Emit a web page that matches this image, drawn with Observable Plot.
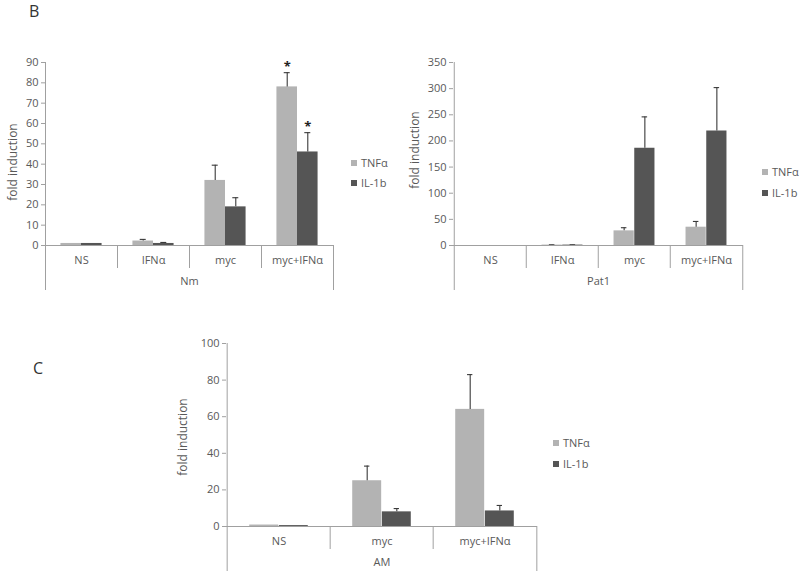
<!DOCTYPE html>
<html><head><meta charset="utf-8">
<script src="https://cdn.jsdelivr.net/npm/d3@7"></script>
<script src="https://cdn.jsdelivr.net/npm/@observablehq/plot@0.6"></script>
<style>
body{margin:0;background:#fff;font-family:'Open Sans',sans-serif;color:#595959}
#root{position:relative;width:800px;height:578px;overflow:hidden;background:#fff}
.abs{position:absolute}
.leg{position:absolute;font-size:11px;line-height:12px;white-space:nowrap}
.sw{width:6px;height:6px;display:inline-block;margin-right:4px;vertical-align:1px}
.letter{position:absolute;font-size:16px;color:#333;line-height:16px}
</style></head><body><div id="root"></div>
<script>
const series = ["TNFα", "IL-1b"];
const seriesColors = ["#b3b3b3", "#555555"];

// Panel B, left (Nm)
const nmCats = ["NS", "IFNα", "myc", "myc+IFNα"];
const nmTNF = [1, 2.2, 32, 78];
const nmTNFErr = [null, 3, 39.5, 85];
const nmIL = [1, 1, 19, 46];
const nmILErr = [null, 1.5, 23.5, 55.5];
const nmTNFStar = ["", "", "", "*"];
const nmILStar = ["", "", "", "*"];
const nmTicks = [0, 10, 20, 30, 40, 50, 60, 70, 80, 90];

// Panel B, right (Pat1)
const patCats = ["NS", "IFNα", "myc", "myc+IFNα"];
const patTNF = [0, 0.8, 28, 35];
const patTNFErr = [null, 1.3, 34, 46];
const patIL = [0, 0.8, 186, 219];
const patILErr = [null, 1.3, 246, 302];
const patTicks = [0, 50, 100, 150, 200, 250, 300, 350];

// Panel C (AM)
const amCats = ["NS", "myc", "myc+IFNα"];
const amTNF = [0.8, 25, 64];
const amTNFErr = [null, 33, 83];
const amIL = [0.5, 8, 8.5];
const amILErr = [null, 9.8, 11.5];
const amTicks = [0, 20, 40, 60, 80, 100];

const axisColor = "#a0a0a0";
const textColor = "#595959";
const root = document.getElementById("root");

function panel(o) {
  const pw = o.width - o.ml - o.mr;
  const bw = pw / o.cats.length;
  const ph = o.height - o.mt - o.mb;
  const yMax = o.ticks[o.ticks.length - 1];
  const ppu = ph / yMax;
  const rows = [];
  o.cats.forEach((c, i) => {
    rows.push({cat: c, s: series[0], v: o.tnf[i], e: o.tnfErr[i], star: o.tnfStar ? o.tnfStar[i] : ""});
    rows.push({cat: c, s: series[1], v: o.il[i], e: o.ilErr[i], star: o.ilStar ? o.ilStar[i] : ""});
  });
  const inner = 23 / ppu, outer = 45 / ppu;
  const marks = [];
  series.forEach((s, k) => {
    const data = rows.filter(r => r.s === s);
    const withErr = data.filter(r => r.e != null);
    const left = k === 0 ? bw * 0.75 / 3.5 : bw * 1.75 / 3.5;
    const right = bw - left - bw / 3.5;
    const center = left + bw / 7;
    marks.push(Plot.barY(data, {x: "cat", y: "v", fill: seriesColors[k], insetLeft: left, insetRight: right}));
    marks.push(Plot.ruleX(withErr, {x: "cat", y1: "v", y2: "e", dx: k === 0 ? -bw / 7 : bw / 7, stroke: "#3a3a3a", strokeWidth: 1.1}));
    marks.push(Plot.tickY(withErr, {x: "cat", y: "e", insetLeft: center - 3, insetRight: bw - center - 3, stroke: "#3a3a3a", strokeWidth: 1.1}));
    marks.push(Plot.text(data.filter(r => r.star), {x: "cat", y: "e", text: "star", dx: k === 0 ? -bw / 7 : bw / 7, dy: -6, fontSize: 13, fill: "#222", fontWeight: "bold"}));
  });
  // x axis baseline
  marks.push(Plot.ruleY([0], {stroke: axisColor}));
  // category dividers
  marks.push(Plot.ruleX(o.cats.slice(1), {x: d => d, dx: -bw / 2, y1: 0, y2: -inner, stroke: axisColor}));
  marks.push(Plot.ruleX(o.cats.slice(0, 1), {x: d => d, dx: -bw / 2, y1: -outer, y2: yMax, stroke: axisColor}));
  marks.push(Plot.ruleX(o.cats.slice(-1), {x: d => d, dx: bw / 2, y1: -outer, y2: 0, stroke: axisColor}));
  marks.push(Plot.axisY({ticks: o.ticks, tickSize: 4, tickPadding: 3, stroke: axisColor, fill: textColor, label: null, tickFormat: d => String(d), fontSize: 11}));
  marks.push(Plot.axisX({tickSize: 0, tickPadding: 11, fill: textColor, label: null, fontSize: 11}));
  marks.push(Plot.text([o.group], {frameAnchor: "bottom", dy: 39, fill: textColor, fontSize: 11}));
  marks.push(Plot.text(["fold induction"], {frameAnchor: "left", textAnchor: "middle", dx: o.ylabDx, dy: o.ylabDy, rotate: -90, fill: textColor, fontSize: 12}));
  const svg = Plot.plot({
    width: o.width, height: o.height,
    marginLeft: o.ml, marginRight: o.mr, marginTop: o.mt, marginBottom: o.mb,
    x: {domain: o.cats, padding: 0, axis: null},
    y: {domain: [0, yMax], axis: null},
    style: {fontFamily: "'Open Sans', sans-serif", fontSize: "11px", color: textColor, background: "transparent", overflow: "visible"},
    marks
  });
  svg.classList.add("abs");
  svg.style.left = o.left + "px";
  svg.style.top = o.top + "px";
  root.appendChild(svg);
  // legend
  series.forEach((s, k) => {
    const d = document.createElement("div");
    d.className = "leg";
    d.style.left = o.legX + "px";
    d.style.top = (o.legY + k * o.legGap - 6) + "px";
    d.innerHTML = `<span class="sw" style="background:${seriesColors[k]}"></span>${s}`;
    root.appendChild(d);
  });
}

panel({cats: nmCats, tnf: nmTNF, tnfErr: nmTNFErr, il: nmIL, ilErr: nmILErr, tnfStar: nmTNFStar, ilStar: nmILStar,
  ticks: nmTicks, group: "Nm", left: 0, top: 40, width: 345, height: 260, ml: 45, mr: 12, mt: 22, mb: 55,
  ylabDx: -32, ylabDy: 8, legX: 351, legY: 163, legGap: 20});
panel({cats: patCats, tnf: patTNF, tnfErr: patTNFErr, il: patIL, ilErr: patILErr,
  ticks: patTicks, group: "Pat1", left: 400, top: 40, width: 355, height: 260, ml: 53, mr: 12, mt: 22, mb: 55,
  ylabDx: -38, ylabDy: -4, legX: 762, legY: 172, legGap: 21});
panel({cats: amCats, tnf: amTNF, tnfErr: amTNFErr, il: amIL, ilErr: amILErr,
  ticks: amTicks, group: "AM", left: 150, top: 320, width: 400, height: 255, ml: 76, mr: 13, mt: 23, mb: 49,
  ylabDx: -43, ylabDy: 2, legX: 553, legY: 443, legGap: 21});

const b = document.createElement("div"); b.className = "letter"; b.textContent = "B";
b.style.left = "29px"; b.style.top = "3px"; root.appendChild(b);
const c = document.createElement("div"); c.className = "letter"; c.textContent = "C";
c.style.left = "33px"; c.style.top = "360px"; root.appendChild(c);
</script></body></html>
